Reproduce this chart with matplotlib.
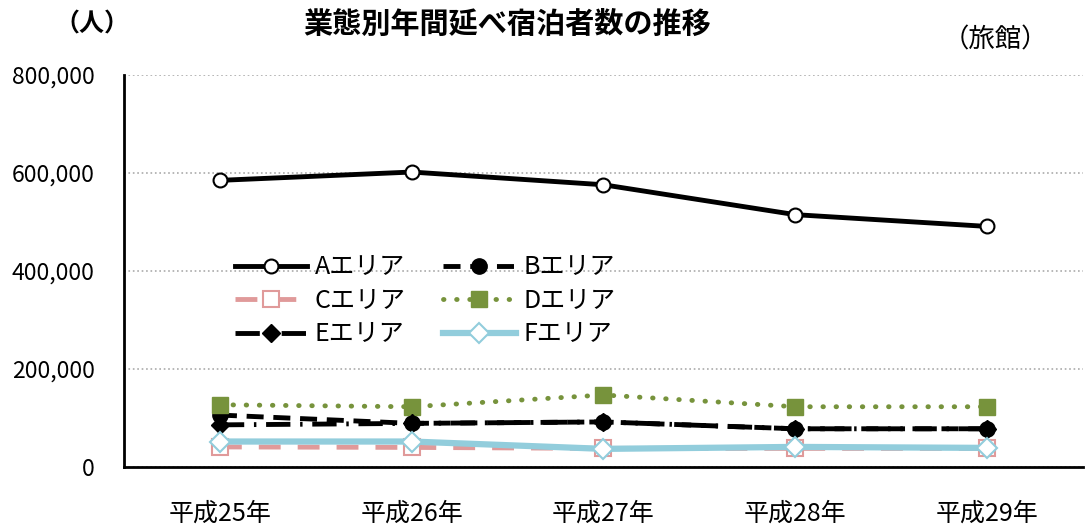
import matplotlib
matplotlib.use('Agg')
import matplotlib.pyplot as plt
import numpy as np

plt.rcParams['font.family'] = ['Noto Sans CJK JP', 'DejaVu Sans']

# data
years = ['平成25年', '平成26年', '平成27年', '平成28年', '平成29年']
area_a = [585000, 602000, 576000, 515000, 491000]
area_b = [106000, 89000, 92000, 78000, 78000]
area_c = [41000, 40000, 38000, 38000, 38000]
area_d = [127000, 123000, 147000, 123000, 123000]
area_e = [86000, 89000, 92000, 78000, 78000]
area_f = [52000, 52000, 37000, 41000, 39000]

x = np.arange(len(years))

fig = plt.figure(figsize=(10.86, 5.29), dpi=100)
ax = fig.add_axes([0.1142, 0.1172, 0.883, 0.741])

la, = ax.plot(x, area_a, color='black', lw=3.5, marker='o', ms=10,
              mfc='white', mec='black', mew=1.5, label='Aエリア', zorder=3)
lb, = ax.plot(x, area_b, color='black', lw=3.5, linestyle=(0, (3.5, 2)), marker='o', ms=11,
              mfc='black', mec='black', label='Bエリア', zorder=3)
lc, = ax.plot(x, area_c, color='#e09a9a', lw=3.5, linestyle=(0, (4.5, 3.5)), marker='s', ms=11,
              mfc='white', mec='#e09a9a', mew=1.5, label='Cエリア', zorder=3)
ld, = ax.plot(x, area_d, color='#77933c', lw=3.5, linestyle=(0, (0.1, 2.6)),
              dash_capstyle='round', marker='s', ms=12, mfc='#77933c', mec='#77933c',
              label='Dエリア', zorder=3)
le, = ax.plot(x, area_e, color='black', lw=3.5, linestyle=(0, (5, 2, 0.5, 2)), marker='D', ms=9,
              mfc='black', mec='black', label='Eエリア', zorder=3)
lf, = ax.plot(x, area_f, color='#92cddc', lw=4.5, marker='D', ms=10,
              mfc='white', mec='#92cddc', mew=1.5, label='Fエリア', zorder=3)

ax.set_xlim(-0.5, 4.5)
ax.set_ylim(0, 800000)
ax.set_yticks([0, 200000, 400000, 600000, 800000])
ax.set_yticklabels(['0', '200,000', '400,000', '600,000', '800,000'])
ax.set_xticks(x)
ax.set_xticklabels(years)
ax.tick_params(axis='y', length=0, pad=21, labelsize=16.5)
ax.tick_params(axis='x', length=0, pad=24, labelsize=18)
ax.grid(axis='y', linestyle=':', color='#aaaaaa', lw=1.2)
ax.set_axisbelow(True)
for s in ['top', 'right']:
    ax.spines[s].set_visible(False)
for s in ['left', 'bottom']:
    ax.spines[s].set_linewidth(2)

ax.legend([la, lc, le, lb, ld, lf],
          ['Aエリア', 'Cエリア', 'Eエリア', 'Bエリア', 'Dエリア', 'Fエリア'],
          ncol=2, frameon=False, fontsize=18, handlelength=2.9, handletextpad=0.3,
          columnspacing=1.5, labelspacing=0.3, numpoints=1,
          loc='upper left', bbox_to_anchor=(0.092, 0.6))

fig.text(0.085, 0.953, '（人）', fontsize=18, fontweight='bold', ha='center', va='center')
fig.text(0.467, 0.955, '業態別年間延べ宿泊者数の推移', fontsize=21, fontweight='bold',
         ha='center', va='center')
fig.text(0.917, 0.925, '（旅館）', fontsize=19, ha='center', va='center')

fig.savefig('out.png', dpi=100)
